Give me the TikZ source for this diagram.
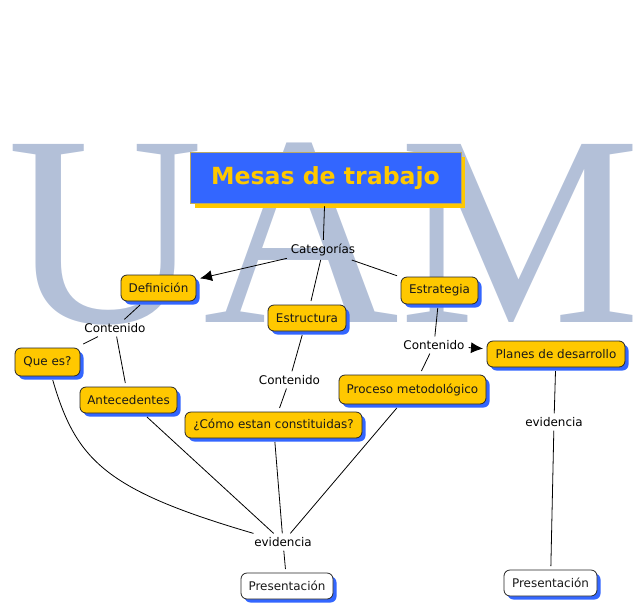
\documentclass[tikz,border=0pt]{standalone}
\usepackage{fontspec}
\setmainfont{DejaVu Sans}
\newfontfamily\uamfont{Liberation Serif}
\usetikzlibrary{arrows.meta, shadows}
\definecolor{uamblue}{HTML}{B3C0D8}
\definecolor{shadeblue}{HTML}{3366FF}
\definecolor{conceptyellow}{HTML}{FFC800}
\definecolor{titleedge}{HTML}{B8A868}
\tikzset{
	concept/.style={draw=black!85, line width=0.8pt, fill=conceptyellow, rounded corners=6pt,
		text=black!90, font=\fontsize{11.95}{13}\selectfont, outer sep=4pt, inner sep=0pt,
		general shadow={shadow xshift=3.5pt, shadow yshift=-3.5pt, fill=shadeblue}},
	plain/.style={concept, fill=white},
	link/.style={font=\fontsize{11.95}{13}\selectfont, text=black, inner sep=2pt, outer sep=2pt},
	conn/.style={draw=black, line width=0.8pt},
	tip/.style={conn, -{Latex[length=12pt, width=11pt]}},
}

\begin{document}
\begin{tikzpicture}[x={(1pt,0)}, y={(0,-1pt)}]

	\useasboundingbox (0,0) rectangle (643,606);

	\node[anchor=base west, inner sep=0pt, text=uamblue, font=\fontsize{272}{272}\uamfont] (uam)
	at (7,322.7) {\scalebox{0.998}[1]{UAM}};

	\fill[conceptyellow] (194.5,157) rectangle (465,207.5);
	\node[draw=titleedge, line width=0.8pt, fill=shadeblue, minimum width=271pt,
		minimum height=50.5pt, inner sep=0pt, outer sep=3pt, text=conceptyellow,
		font=\fontsize{23.6}{26}\selectfont\bfseries] (title)
	at (325.5,178) {Mesas de trabajo};

	\node[concept, minimum width=75pt, minimum height=26pt] (def) at (158.5,288) {Definición};
	\node[concept, minimum width=77pt, minimum height=27pt] (estrat) at (439.5,290.5) {Estrategia};
	\node[concept, minimum width=78pt, minimum height=26pt] (estruc) at (307,318) {Estructura};
	\node[concept, minimum width=65pt, minimum height=28pt] (que) at (47.5,362) {Que es?};
	\node[concept, minimum width=97pt, minimum height=26pt] (ante) at (128.5,400) {Antecedentes};
	\node[concept, minimum width=177pt, minimum height=26pt] (como) at (273.5,425) {¿Cómo estan constituidas?};
	\node[concept, minimum width=147pt, minimum height=29pt] (proc) at (412.5,389.5) {Proceso metodológico};
	\node[concept, minimum width=138pt, minimum height=26pt] (planes) at (556,354) {Planes de desarrollo};
	\node[plain, minimum width=92pt, minimum height=26pt] (prea) at (287,586) {Presentación};
	\node[plain, minimum width=93pt, minimum height=26pt] (preb) at (550.5,583) {Presentación};

	\node[link] (cat) at (323,250) {Categorías};
	\node[link] (cona) at (115,328) {Contenido};
	\node[link] (conb) at (289.5,380) {Contenido};
	\node[link] (conc) at (434,345) {Contenido};
	\node[link] (evia) at (283,542) {evidencia};
	\node[link] (evib) at (554,422) {evidencia};

	\draw[conn] (title) -- (cat);
	\draw[tip] (cat) -- (def);
	\draw[conn] (cat) -- (estruc);
	\draw[conn] (cat) -- (estrat);
	\draw[conn] (def) -- (cona);
	\draw[conn] (cona) -- (que);
	\draw[conn] (cona) -- (ante);
	\draw[conn] (estruc) -- (conb);
	\draw[conn] (conb) -- (como);
	\draw[conn] (estrat) -- (conc);
	\draw[conn] (conc) -- (proc);
	\draw[tip] (conc) -- (planes);
	\draw[conn] (planes) -- (evib);
	\draw[conn] (evib) -- (preb);
	\draw[conn] (que) .. controls (76,460) and (105,490) .. (evia);
	\draw[conn] (ante) -- (evia);
	\draw[conn] (como) -- (evia);
	\draw[conn] (proc) -- (evia);
	\draw[conn] (evia) -- (prea);

\end{tikzpicture}
\end{document}
